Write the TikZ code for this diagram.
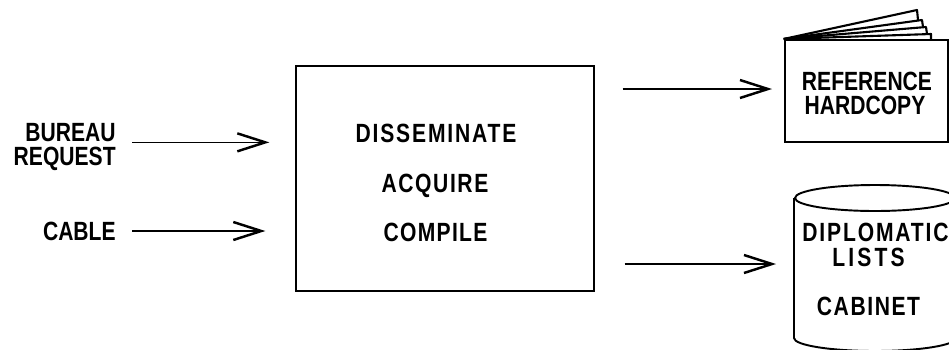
\documentclass[tikz,border=0pt]{standalone}
\usepackage{fontspec}
\setmainfont{Liberation Sans}[FakeStretch=0.8]
\usetikzlibrary{arrows.meta, positioning}

\begin{document}
\begin{tikzpicture}[x=0.02cm, y=-0.02cm]
			
			\tikzstyle{lab}=[inner sep=0pt, text height=10.8pt, text depth=0pt, font=\fontsize{15}{16}\selectfont\bfseries, text=black]
			\tikzstyle{leftlab}=[lab, anchor=east, inner xsep=0.32cm]
			\tikzstyle{flow}=[draw=black, line width=0.8pt, -{Straight Barb[length=0.56cm, width=0.36cm, line width=1.4pt]}]
			\tikzstyle{solid box}=[draw=black, line width=0.8pt, inner sep=0pt]
			\tikzstyle{page}=[line width=1.2pt, line join=round]
			\newcommand{\spaced}[1]{\addfontfeature{LetterSpace=#1}}
			
			\clip (0,0) rectangle (949,349);
			
			\node (main) at (445,178.5) [solid box, minimum width=5.96cm, minimum height=4.5cm] {};
			\node (disseminate) at (436,133) [lab] {\spaced{7}DISSEMINATE};
			\node (acquire) at (435,183) [lab] {\spaced{6}ACQUIRE};
			\node (compile) at (435.5,232) [lab] {\spaced{5}COMPILE};
			
			\node (bureau) at (132,132.5) [leftlab] {BUREAU};
			\node (request) at (132,156) [leftlab] {REQUEST};
			\node (cable) at (132,231) [leftlab] {CABLE};
			
			\draw [flow, yshift=0.6pt, shorten >=0.52cm] (bureau.south east) -- (bureau.south east -| main.west);
			\draw [flow, shorten >=0.6cm] (cable.east) -- (cable.east -| main.west);
			
			% booklet
			\node (book) at (866.5,91) [draw=black, line width=1.2pt, inner sep=0pt, minimum width=3.27cm, minimum height=2.04cm] {};
			\node (reference) at (867,81) [lab] {REFERENCE};
			\node (hardcopy) at (865,105) [lab] {HARDCOPY};
			
			\draw [page] (book.north west) -- (917,10) -- (918,20);
			\draw [page] (book.north west) -- (922,20) -- (923,27);
			\draw [page] (book.north west) -- (926,27) -- (927,34);
			\draw [page] (book.north west) -- (931,34) -- (931,40);
			
			% cabinet
			\draw [line width=1.1pt] (875,198) ellipse (80 and 13);
			\draw [line width=1.1pt] (794,198) -- (794,338) arc (180:0:81 and 13);
			\node (diplomatic) at (875.5,232) [lab] {\spaced{7}DIPLOMATIC};
			\node (lists) at (868.5,257) [lab] {\spaced{12}LISTS};
			\node (cabinet) at (868.5,306) [lab] {\spaced{6}CABINET};
			
			\coordinate (bookin) at (772,89);
			\coordinate (cabinetin) at (776,264);
			
			\draw [flow, shorten <=0.56cm] (main.east |- bookin) -- (bookin);
			\draw [flow, shorten <=0.6cm] (main.east |- cabinetin) -- (cabinetin);
			\end{tikzpicture}
\end{document}
